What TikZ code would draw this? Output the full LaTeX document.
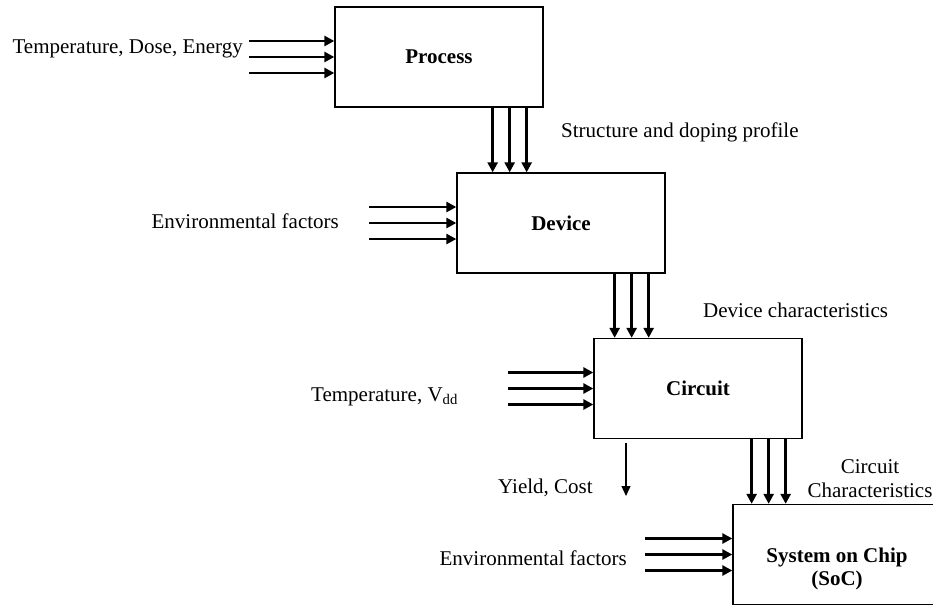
\documentclass[tikz,border=0pt]{standalone}
\usepackage{fontspec}
\setmainfont{Liberation Serif}
\usetikzlibrary{arrows.meta,calc,positioning}

\begin{document}
\begin{tikzpicture}[
    x=1pt, y=-1pt,
    font=\fontsize{21}{24}\selectfont,
    block/.style={draw=black, line width=1.3pt, minimum width=208pt,
                  minimum height=100pt, inner sep=0pt, align=center,
                  font=\fontsize{21}{23}\selectfont\bfseries},
    lbl/.style={inner sep=0pt},
    feed/.style={-{Triangle[length=10pt,width=10pt]}, line width=2.8pt},
    yieldarrow/.style={-{Triangle[length=10pt,width=9pt]}, line width=1.2pt}
]
\useasboundingbox (0,0) rectangle (933,607);

% stages
\node[block] (process) at (439,57) {Process};
\node[block] (device) at (561,223) {Device};
\node[block] (circuit) at (698,388.5) {Circuit};
\node[block] (soc) at (837,554.5) {};
\node[align=center, inner sep=0pt, font=\fontsize{21}{23}\selectfont\bfseries]
    (soctext) at ([yshift=-14.5pt]soc.center) {System on Chip\\(SoC)};

% inputs on the left of each stage
\coordinate (procin) at (249,57);
\coordinate (devin) at (369,223);
\coordinate (circin) at (508,388.5);
\coordinate (socin) at (645,554.5);
\foreach \src/\dst in {procin/process, devin/device, circin/circuit, socin/soc}
  \foreach \dy in {-16,0,16}
    \draw[feed] ($(\src)+(0,\dy)$) -- ($(\src -| \dst.west)+(0,\dy)$);

% stage to stage
\foreach \up/\down in {process/device, device/circuit, circuit/soc}
  \foreach \dx in {-51,-34,-17}
    \draw[feed] ($(\up.south east)+(\dx,0)$) -- ($(\up.south east |- \down.north)+(\dx,0)$);

% yield output
\coordinate (yieldend) at (626,496);
\draw[yieldarrow] ($(yieldend |- circuit.south)+(0,4)$) -- (yieldend);

% labels
\node[lbl, anchor=base east] (tdelbl) at (243,54) {Temperature, Dose, Energy};
\node[lbl, anchor=base west] (structlbl) at (561,137) {Structure and doping profile};
\node[lbl, anchor=base east] (envlbl) at (339,228) {Environmental factors};
\node[lbl, anchor=base west] (devchar) at (703,317) {Device characteristics};
\node[lbl, anchor=base west] (tvddlbl) at (311,401) {Temperature, V\textsubscript{dd}};
\node[lbl, align=center] (circchar) at (870,479) {Circuit\\Characteristics};
\node[lbl, anchor=base west] (yieldlbl) at (498,493) {Yield, Cost};
\node[lbl, anchor=base east] (envlbl2) at (627,565) {Environmental factors};
\end{tikzpicture}
\end{document}
